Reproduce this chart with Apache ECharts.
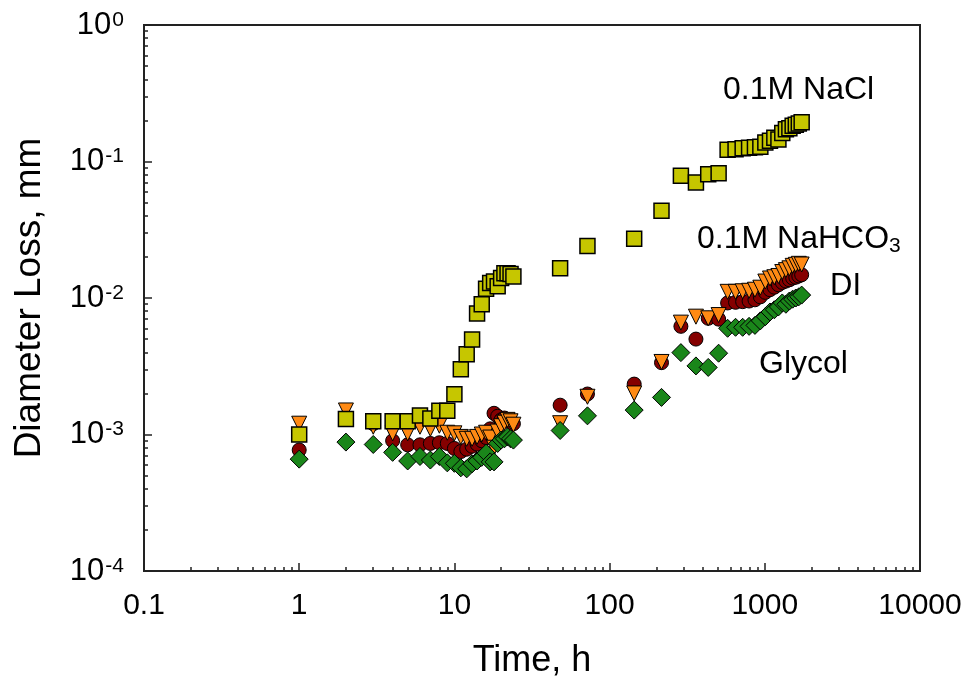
<!DOCTYPE html>
<html>
<head>
<meta charset="utf-8">
<script src="https://cdn.jsdelivr.net/npm/echarts@6/dist/echarts.min.js"></script>
<style>
  html, body { margin: 0; padding: 0; background: #fff; }
  #chart { width: 967px; height: 686px; }
</style>
</head>
<body>
<div id="chart"></div>
<script>
// sampling times, h
const hours = [1, 2, 3, 4, 5, 6, 7, 8, 9, 10, 11, 12, 13, 14, 15, 16, 17, 18, 19, 20, 21, 22, 23, 24,
  48, 72, 144, 216, 288, 360, 432, 504,
  576, 648, 720, 792, 864, 936, 1008, 1080, 1152, 1224, 1296, 1368, 1440, 1512, 1584, 1656, 1728];

// diameter loss, mm
const nacl = [1.0e-3, 1.3e-3, 1.25e-3, 1.25e-3, 1.25e-3, 1.38e-3, 1.31e-3, 1.49e-3, 1.49e-3, 1.97e-3,
  3.0e-3, 3.87e-3, 4.97e-3, 7.7e-3, 9.0e-3, 1.17e-2, 1.29e-2, 1.32e-2, 1.22e-2, 1.4e-2, 1.52e-2, 1.52e-2, 1.5e-2, 1.44e-2,
  1.65e-2, 2.4e-2, 2.72e-2, 4.35e-2, 7.87e-2, 7.03e-2, 8.07e-2, 8.2e-2,
  0.122, 0.123, 0.125, 0.126, 0.127, 0.128, 0.138, 0.142, 0.149, 0.145, 0.162, 0.172, 0.175, 0.183, 0.186, 0.19, 0.194];

const nahco3 = [1.2e-3, 1.5e-3, 1.14e-3, 1.02e-3, 1.02e-3, 1.14e-3, 1.1e-3, 1.16e-3, 1.03e-3, 1.02e-3,
  9.6e-4, 9.3e-4, 9.3e-4, 9.6e-4, 1.0e-3, 1.03e-3, 9.5e-4, 8.0e-4, 1.05e-3, 1.15e-3, 1.22e-3, 1.28e-3, 1.25e-3, 1.18e-3,
  1.21e-3, 1.89e-3, 2.0e-3, 3.4e-3, 6.6e-3, 7.3e-3, 7.1e-3, 7.5e-3,
  1.11e-2, 1.11e-2, 1.12e-2, 1.13e-2, 1.15e-2, 1.19e-2, 1.32e-2, 1.39e-2, 1.42e-2, 1.45e-2, 1.55e-2, 1.6e-2, 1.65e-2, 1.72e-2, 1.75e-2, 1.78e-2, 1.76e-2];

const di = [7.7e-4, 1.35e-3, 1.2e-3, 9.0e-4, 8.4e-4, 8.4e-4, 8.6e-4, 8.7e-4, 8.6e-4, 7.9e-4,
  7.5e-4, 7.8e-4, 8.2e-4, 8.5e-4, 9.0e-4, 9.5e-4, 1.1e-3, 1.43e-3, 1.36e-3, 1.28e-3, 1.32e-3, 1.25e-3, 1.28e-3, 1.2e-3,
  1.64e-3, 1.98e-3, 2.34e-3, 3.36e-3, 6.2e-3, 5.0e-3, 7.1e-3, 7.0e-3,
  9.2e-3, 9.3e-3, 9.4e-3, 9.5e-3, 9.7e-3, 1.02e-2, 1.1e-2, 1.15e-2, 1.2e-2, 1.25e-2, 1.3e-2, 1.33e-2, 1.36e-2, 1.4e-2, 1.42e-2, 1.45e-2, 1.48e-2];

const glycol = [6.6e-4, 8.8e-4, 8.45e-4, 7.4e-4, 6.4e-4, 6.9e-4, 6.5e-4, 6.9e-4, 6.2e-4, 6.15e-4,
  5.7e-4, 5.6e-4, 6.1e-4, 6.4e-4, 6.8e-4, 7.3e-4, 6.3e-4, 6.3e-4, 8.6e-4, 9.1e-4, 9.3e-4, 9.6e-4, 9.3e-4, 9.1e-4,
  1.07e-3, 1.37e-3, 1.51e-3, 1.87e-3, 3.98e-3, 3.18e-3, 3.1e-3, 3.94e-3,
  6.0e-3, 6.1e-3, 6.1e-3, 6.2e-3, 6.3e-3, 6.8e-3, 7.3e-3, 7.9e-3, 8.2e-3, 8.6e-3, 9.2e-3, 9.0e-3, 9.5e-3, 9.8e-3, 1.0e-2, 1.02e-2, 1.05e-2];

const FONT = '"Liberation Sans", Arial, sans-serif';
const AXIS = '#222';

function pairs(ys) {
  return hours.map((h, i) => [h, ys[i]]);
}

const chart = echarts.init(document.getElementById('chart'), null, { renderer: 'canvas' });

chart.setOption({
  backgroundColor: '#fff',
  animation: false,
  textStyle: { fontFamily: FONT },
  grid: {
    left: 144, right: 47, top: 25, bottom: 115,
    show: true, borderColor: AXIS, borderWidth: 2, backgroundColor: 'transparent',
  },
  xAxis: {
    type: 'log',
    logBase: 10,
    min: 0.1,
    max: 10000,
    name: 'Time, h',
    nameLocation: 'middle',
    nameGap: 72,
    nameTextStyle: { fontSize: 36, color: '#000', fontFamily: FONT },
    axisLine: { show: true, lineStyle: { color: AXIS, width: 2 } },
    axisTick: { show: true, inside: true, length: 8, lineStyle: { color: AXIS, width: 1.5 } },
    minorTick: { show: true, splitNumber: 9, length: 4, lineStyle: { color: AXIS, width: 1.5 } },
    splitLine: { show: false },
    axisLabel: {
      fontSize: 30, color: '#000', margin: 20, fontFamily: FONT,
      formatter: (v) => (v < 1 ? String(+v.toFixed(1)) : String(Math.round(v))),
    },
  },
  yAxis: {
    type: 'log',
    logBase: 10,
    min: 1e-4,
    max: 1,
    name: 'Diameter Loss, mm',
    nameLocation: 'middle',
    nameGap: 96,
    nameRotate: 90,
    nameTextStyle: { fontSize: 37, color: '#000', fontFamily: FONT },
    axisLine: { show: true, lineStyle: { color: AXIS, width: 2 } },
    axisTick: { show: true, inside: true, length: 8, lineStyle: { color: AXIS, width: 1.5 } },
    minorTick: { show: true, splitNumber: 9, length: 4, lineStyle: { color: AXIS, width: 1.5 } },
    splitLine: { show: false },
    axisLabel: {
      margin: 20,
      formatter: (v) => '{b|10}{s|' + Math.round(Math.log10(v)) + '}',
      rich: {
        b: { fontSize: 31, color: '#000', fontFamily: FONT },
        s: { fontSize: 21, color: '#000', fontFamily: FONT, verticalAlign: 'top', padding: [0, 0, 10, 1] },
      },
    },
  },
  series: [
    {
      name: 'DI', type: 'scatter', data: pairs(di),
      symbol: 'circle', symbolSize: 14,
      itemStyle: { color: '#850000', borderColor: '#000', borderWidth: 1, opacity: 1 },
    },
    {
      name: '0.1M NaHCO3', type: 'scatter', data: pairs(nahco3),
      symbol: 'triangle', symbolSize: 15, symbolRotate: 180,
      itemStyle: { color: '#ff8a14', borderColor: '#000', borderWidth: 1, opacity: 1 },
    },
    {
      name: 'Glycol', type: 'scatter', data: pairs(glycol),
      symbol: 'diamond', symbolSize: 18,
      itemStyle: { color: '#1a861a', borderColor: '#000', borderWidth: 1, opacity: 1 },
    },
    {
      name: '0.1M NaCl', type: 'scatter', data: pairs(nacl),
      symbol: 'rect', symbolSize: 15,
      itemStyle: { color: '#c6c600', borderColor: '#000', borderWidth: 1.5, opacity: 1 },
    },
  ],
  graphic: [
    { type: 'text', left: 723, top: 74, style: { text: '0.1M NaCl', font: '32px ' + FONT, fill: '#000' } },
    {
      type: 'text', left: 697, top: 223,
      style: {
        text: '0.1M NaHCO{sub|3}', font: '32px ' + FONT, fill: '#000',
        rich: { sub: { fontSize: 21, fontFamily: FONT, fill: '#000', verticalAlign: 'bottom', padding: [14, 0, 0, 0] } },
      },
    },
    { type: 'text', left: 830, top: 271, style: { text: 'DI', font: '31px ' + FONT, fill: '#000' } },
    { type: 'text', left: 759, top: 348, style: { text: 'Glycol', font: '32px ' + FONT, fill: '#000' } },
  ],
});
</script>
</body>
</html>
